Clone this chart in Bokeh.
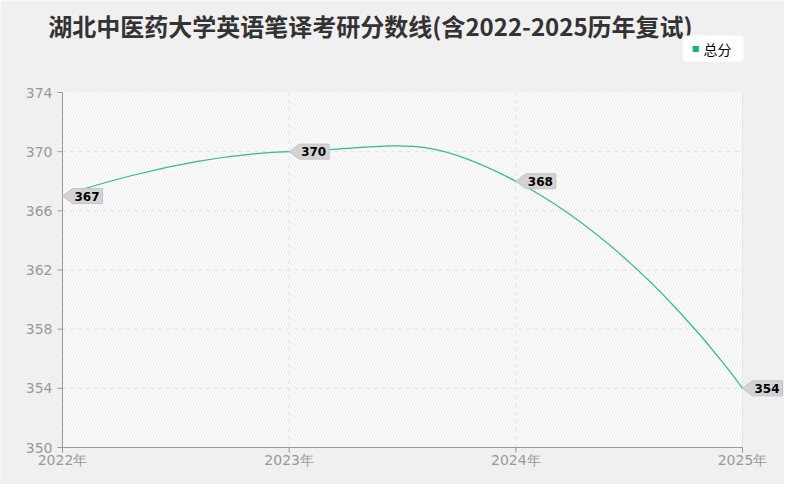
import math
from bokeh.plotting import figure
from bokeh.models import BoxAnnotation, Label, Range1d, ColumnDataSource
from bokeh.core.properties import value
from bokeh.embed import file_html
from bokeh.resources import INLINE

# ---- data ----
years = [2022, 2023, 2024, 2025]
scores = [367, 370, 368, 354]
year_labels = ["2022年", "2023年", "2024年", "2025年"]
y_ticks = [350, 354, 358, 362, 366, 370, 374]
title_text = "湖北中医药大学英语笔译考研分数线(含2022-2025历年复试)"
series_name = "总分"

# ---- layout (pixels) ----
W, H = 784, 484
PL, PR, PT, PB = 62, 42, 92, 37          # plot-area insets inside the canvas
FW, FH = W - PL - PR, H - PT - PB
LINE_COLOR = "#2bbd8c"
AXIS_COLOR = "#999999"

x0, x1 = years[0], years[-1]
y0, y1 = y_ticks[0], y_ticks[-1]
sx = FW / (x1 - x0)
sy = FH / (y1 - y0)

p = figure(width=W, height=H, output_backend="svg", toolbar_location=None,
           x_range=Range1d(x0 - PL / sx, x1 + PR / sx),
           y_range=Range1d(y0 - PB / sy, y1 + PT / sy),
           min_border=0)
p.axis.visible = False
p.grid.visible = False
p.border_fill_color = "#f0f0f0"
p.background_fill_color = "#f0f0f0"
p.outline_line_color = None

# hatched plot area
p.add_layout(BoxAnnotation(left=x0, right=x1, bottom=y0, top=y1,
                           fill_color="#fcfcfc", fill_alpha=1, line_color=None,
                           hatch_pattern="/", hatch_color="#eeeeee", hatch_scale=6,
                           hatch_weight=1, level="underlay"))

# grid lines
p.segment(x0=years[1:-1], y0=[y0] * (len(years) - 2), x1=years[1:-1], y1=[y1] * (len(years) - 2),
          line_color="#e2e2e2", line_dash="4 4", line_width=1)
p.segment(x0=[x1], y0=[y0], x1=[x1], y1=[y1], line_color="#e6e6e6", line_width=1)
p.segment(x0=[x0] * (len(y_ticks) - 2), y0=y_ticks[1:-1], x1=[x1] * (len(y_ticks) - 2),
          y1=y_ticks[1:-1], line_color="#e2e2e2", line_dash="4 4", line_width=1)

# axes
p.segment(x0=[x0, x0], y0=[y0, y0], x1=[x0, x1], y1=[y1, y0], line_color=AXIS_COLOR, line_width=1)
p.ray(x=[x0] * len(y_ticks), y=y_ticks, length=5, length_units="screen", angle=math.pi,
      line_color=AXIS_COLOR, line_width=1)
p.ray(x=years, y=[y0] * len(years), length=5, length_units="screen", angle=-math.pi / 2,
      line_color=AXIS_COLOR, line_width=1)
p.text(x=[x0] * len(y_ticks), y=y_ticks, text=[str(t) for t in y_ticks], x_offset=-10,
       text_align="right", text_baseline="middle", text_font=value("DejaVu Sans"),
       text_font_size="14px", text_color=AXIS_COLOR)
p.text(x=years, y=[y0] * len(years), text=year_labels, y_offset=4,
       text_align="center", text_baseline="top", text_font=value("DejaVu Sans"),
       text_font_size="14px", text_color=AXIS_COLOR)

# smooth curve (echarts-like bezier smoothing)
pts = [((x - x0) * sx, (y - y0) * sy) for x, y in zip(years, scores)]
n = len(pts)
smooth = 0.5
cin = [None] * n
cout = [None] * n
cout[0] = pts[0]
cin[-1] = pts[-1]
for i in range(1, n - 1):
    (px, py), (cx, cy), (nx, ny) = pts[i - 1], pts[i], pts[i + 1]
    vx, vy = nx - px, ny - py
    l0 = math.hypot(cx - px, cy - py)
    l1 = math.hypot(nx - cx, ny - cy)
    r = l1 / (l0 + l1)
    cin[i] = (cx - vx * smooth * (1 - r), cy - vy * smooth * (1 - r))
    cout[i] = (cx + vx * smooth * r, cy + vy * smooth * r)

def to_data(pt):
    return (pt[0] / sx + x0, pt[1] / sy + y0)

bz = dict(x0=[], y0=[], x1=[], y1=[], cx0=[], cy0=[], cx1=[], cy1=[])
for i in range(n - 1):
    a, b = to_data(pts[i]), to_data(pts[i + 1])
    c0, c1 = to_data(cout[i]), to_data(cin[i + 1])
    bz["x0"].append(a[0]); bz["y0"].append(a[1])
    bz["x1"].append(b[0]); bz["y1"].append(b[1])
    bz["cx0"].append(c0[0]); bz["cy0"].append(c0[1])
    bz["cx1"].append(c1[0]); bz["cy1"].append(c1[1])
p.bezier(x0="x0", y0="y0", x1="x1", y1="y1", cx0="cx0", cy0="cy0", cx1="cx1", cy1="cy1",
         source=ColumnDataSource(bz), line_color=LINE_COLOR, line_width=1.2)

# value tags
TIP, BOXW, HALF = 10, 30, 7.5
tag_xs, tag_ys = [], []
for x, y in zip(years, scores):
    tag_xs.append([x, x + TIP / sx, x + (TIP + BOXW) / sx, x + (TIP + BOXW) / sx, x + TIP / sx])
    tag_ys.append([y, y + HALF / sy, y + HALF / sy, y - HALF / sy, y - HALF / sy])
p.patches(xs=tag_xs, ys=tag_ys, fill_color="#d3d3d3", line_color="#c4c4c4", line_width=1)
p.text(x=years, y=scores, text=[str(s) for s in scores], x_offset=12,
       text_baseline="middle", text_align="left", text_font=value("DejaVu Sans"),
       text_font_style="bold", text_font_size="12px", text_color="#000000")

# title (screen units: from the canvas bottom-left)
p.add_layout(Label(x=370, y=H - 25, x_units="screen", y_units="screen", text=title_text,
                   text_align="center", text_baseline="middle", text_font="Noto Sans CJK SC",
                   text_font_style="bold", text_font_size="24px", text_color="#333333"))

# legend (drawn by hand; the box starts at the anchor, padding = left, right, top, bottom)
p.add_layout(Label(x=682, y=H - 48, x_units="screen", y_units="screen",
                   text=series_name, text_align="left", text_baseline="middle",
                   text_font="Noto Sans CJK SC", text_font_size="14px", text_color="#000000",
                   background_fill_color="#ffffff", background_fill_alpha=1,
                   border_line_color=None, border_radius=4, padding=(21, 12, 3, 3)))
p.add_layout(Label(x=695, y=H - 48, x_units="screen", y_units="screen",
                   text="■", text_align="center", text_baseline="middle",
                   text_font="DejaVu Sans", text_font_size="8px", text_color="#12b386"))

open("out.html", "w").write(file_html(p, INLINE))
